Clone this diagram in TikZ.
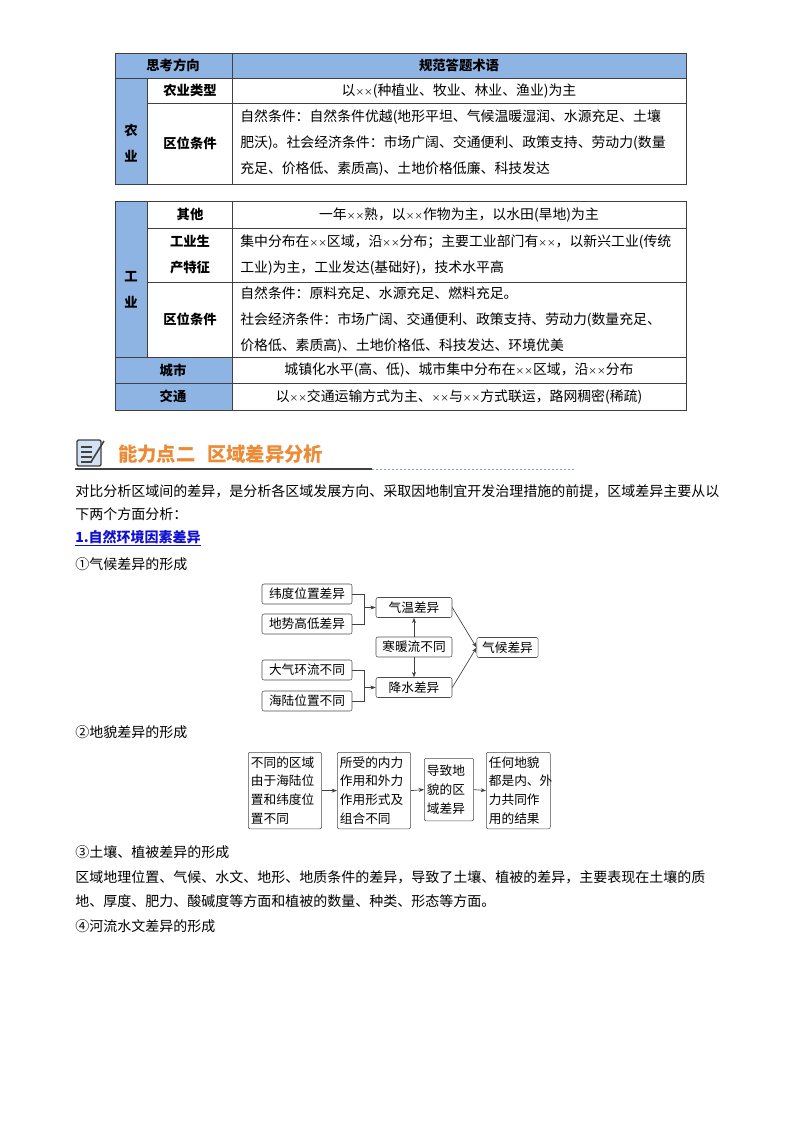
\documentclass[tikz,border=0pt]{standalone}
\usepackage{fontspec}
\setmainfont{Noto Sans CJK SC}
\usetikzlibrary{arrows.meta}
\definecolor{hdr}{HTML}{8EB4E3}
\definecolor{org}{HTML}{EC8A35}
\definecolor{lnk}{HTML}{1010D0}
\definecolor{ln}{HTML}{5A78B0}
\newcommand{\xmul}{{\fontsize{6.5}{6}\selectfont ××}}
\tikzset{
 cell/.style={font=\fontsize{10.4}{19.5}\selectfont,inner sep=0pt},
 bcell/.style={font=\fontsize{10}{19.5}\selectfont\bfseries,inner sep=0pt,align=center},
 txt/.style={font=\fontsize{10.4}{19.5}\selectfont,anchor=west,align=left,inner sep=0pt},
 ptxt/.style={font=\fontsize{10.5}{18}\selectfont,anchor=west,inner sep=0pt},
 box/.style={draw=black!70,rounded corners=1.5pt,font=\fontsize{9.5}{13}\selectfont,inner sep=2pt,minimum height=15pt},
 vbox/.style={draw=black!70,rounded corners=1.5pt,font=\fontsize{9.5}{14.2}\selectfont,inner sep=2pt,align=left,anchor=north west},
 tbl/.style={draw=black!75,line width=0.6pt},
 arr/.style={-{Stealth[length=4pt,width=3pt]},black!75,line width=0.5pt},
 ln/.style={black!75,line width=0.5pt}
}
\begin{document}
\begin{tikzpicture}[x=0.75pt,y=-0.75pt]
\useasboundingbox (0,0) rectangle (800,1132);
% ---------- table 1
\fill[hdr] (115,53) rectangle (686,78);
\fill[hdr] (115,78) rectangle (147,184);
\draw[tbl] (115,53) rectangle (686,184);
\draw[tbl] (115,78) -- (686,78);
\draw[tbl] (147,103) -- (686,103);
\draw[tbl] (147,78) -- (147,184);
\draw[tbl] (232,53) -- (232,184);
\node[bcell] (h1) at (173,65.5) {思考方向};
\node[bcell] (h2) at (459,65.5) {规范答题术语};
\node[bcell] (ny) at (131,143) {农\\业};
\node[bcell] (nl) at (190,90.5) {农业类型};
\node[bcell] (nq) at (190,143) {区位条件};
\node[cell] (t1) at (459,90.5) {以\xmul(种植业、牧业、林业、渔业)为主};
\node[txt] (t2) at (240,143) {自然条件：自然条件优越(地形平坦、气候温暖湿润、水源充足、土壤\\肥沃)。社会经济条件：市场广阔、交通便利、政策支持、劳动力(数量\\充足、价格低、素质高)、土地价格低廉、科技发达};
% ---------- table 2
\fill[hdr] (115,201) rectangle (147,357);
\fill[hdr] (115,357) rectangle (232,410);
\draw[tbl] (115,201) rectangle (686,410);
\draw[tbl] (147,228) -- (686,228);
\draw[tbl] (147,282) -- (686,282);
\draw[tbl] (115,357) -- (686,357);
\draw[tbl] (115,383) -- (686,383);
\draw[tbl] (147,201) -- (147,357);
\draw[tbl] (232,201) -- (232,410);
\node[bcell] (gy) at (131,290) {工\\业};
\node[bcell] (qt) at (190,214.5) {其他};
\node[bcell] (gs) at (190,255) {工业生\\产特征};
\node[bcell] (gq) at (190,319.5) {区位条件};
\node[bcell] (cs) at (173,370) {城市};
\node[bcell] (jt) at (173,396.5) {交通};
\node[cell] (u1) at (459,214.5) {一年\xmul 熟，以\xmul 作物为主，以水田(旱地)为主};
\node[txt] (u2) at (240,255) {集中分布在\xmul 区域，沿\xmul 分布；主要工业部门有\xmul，以新兴工业(传统\\工业)为主，工业发达(基础好)，技术水平高};
\node[txt] (u3) at (240,319.5) {自然条件：原料充足、水源充足、燃料充足。\\社会经济条件：市场广阔、交通便利、政策支持、劳动力(数量充足、\\价格低、素质高)、土地价格低、科技发达、环境优美};
\node[cell] (u4) at (459,370) {城镇化水平(高、低)、城市集中分布在\xmul 区域，沿\xmul 分布};
\node[cell] (u5) at (459,396.5) {以\xmul 交通运输方式为主、\xmul 与\xmul 方式联运，路网稠密(稀疏)};
% ---------- heading
\fill[hdr!40,rounded corners=1pt] (77,440) rectangle (101,466);
\draw[ln,line width=1pt,rounded corners=1pt] (77,440) rectangle (101,466);
\foreach \yy in {447,452,457,462} \draw[ln,line width=0.8pt] (81,\yy) -- (92,\yy);
\draw[ln,line width=1.2pt] (91,462) -- (104,441);
\node[font=\fontsize{14.5}{16}\selectfont\bfseries,text=org,anchor=west,inner sep=0pt] (ttl) at (118,454) {能力点二\hspace{0.6em}区域差异分析};
\draw[ln,line width=0.8pt] (75,469) -- (372,469);
\draw[ln!70,line width=0.6pt,dash pattern=on 1.5pt off 1.5pt] (372,469) -- (575,469);
\node[ptxt] (p1) at (75,491) {对比分析区域间的差异，是分析各区域发展方向、采取因地制宜开发治理措施的前提，区域差异主要从以};
\node[ptxt] (p2) at (75,514) {下两个方面分析：};
\node[ptxt,text=lnk,font=\fontsize{10.5}{18}\selectfont\bfseries] (p3) at (75,538) {\underline{1.自然环境因素差异}};
\node[ptxt] (p4) at (75,564) {①气候差异的形成};
% ---------- diagram 1
\node[box,minimum width=67.5pt] (a1) at (307,594) {纬度位置差异};
\node[box,minimum width=67.5pt] (a2) at (307,624) {地势高低差异};
\node[box,minimum width=67.5pt] (a3) at (307,670) {大气环流不同};
\node[box,minimum width=67.5pt] (a4) at (307,701) {海陆位置不同};
\node[box,minimum width=57pt] (qw) at (414,607.5) {气温差异};
\node[box,minimum width=57pt] (hn) at (414,647) {寒暖流不同};
\node[box,minimum width=57pt] (js) at (414,687.5) {降水差异};
\node[box,minimum width=46pt] (qh) at (507.5,647.5) {气候差异};
\coordinate (j1) at (364,607.5);
\coordinate (j2) at (364,687.5);
\draw[ln] (a1.east) -| (j1);
\draw[ln] (a2.east) -| (j1);
\draw[arr] (j1) -- (qw.west);
\draw[ln] (a3.east) -| (j2);
\draw[ln] (a4.east) -| (j2);
\draw[arr] (j2) -- (js.west);
\draw[arr] (hn.north) -- (qw.south);
\draw[arr] (hn.south) -- (js.north);
\draw[arr] (qw.east) -- (qh.west);
\draw[arr] (js.east) -- (qh.west);
% ---------- diagram 2
\node[ptxt] (p5) at (75,732) {②地貌差异的形成};
\node[vbox,text width=51pt,minimum height=57.5pt] (b1) at (248,752) {不同的区域\\由于海陆位\\置和纬度位\\置不同};
\node[vbox,text width=51pt,minimum height=57.5pt] (b2) at (337,752) {所受的内力\\作用和外力\\作用形式及\\组合不同};
\node[vbox,text width=33pt,minimum height=47pt] (b3) at (424,758) {导致地\\貌的区\\域差异};
\node[vbox,text width=44pt,minimum height=57.5pt] (b4) at (486,752) {任何地貌\\都是内、外\\力共同作\\用的结果};
\draw[arr] (b1.east) -- (b2.west);
\draw[arr] (b2.east) -- (b3.west);
\draw[arr] (b3.east) -- (b4.west);
% ---------- text
\node[ptxt] (p6) at (75,852) {③土壤、植被差异的形成};
\node[ptxt] (p7) at (75,877) {区域地理位置、气候、水文、地形、地质条件的差异，导致了土壤、植被的差异，主要表现在土壤的质};
\node[ptxt] (p8) at (75,901) {地、厚度、肥力、酸碱度等方面和植被的数量、种类、形态等方面。};
\node[ptxt] (p9) at (75,926) {④河流水文差异的形成};
\end{tikzpicture}
\end{document}
